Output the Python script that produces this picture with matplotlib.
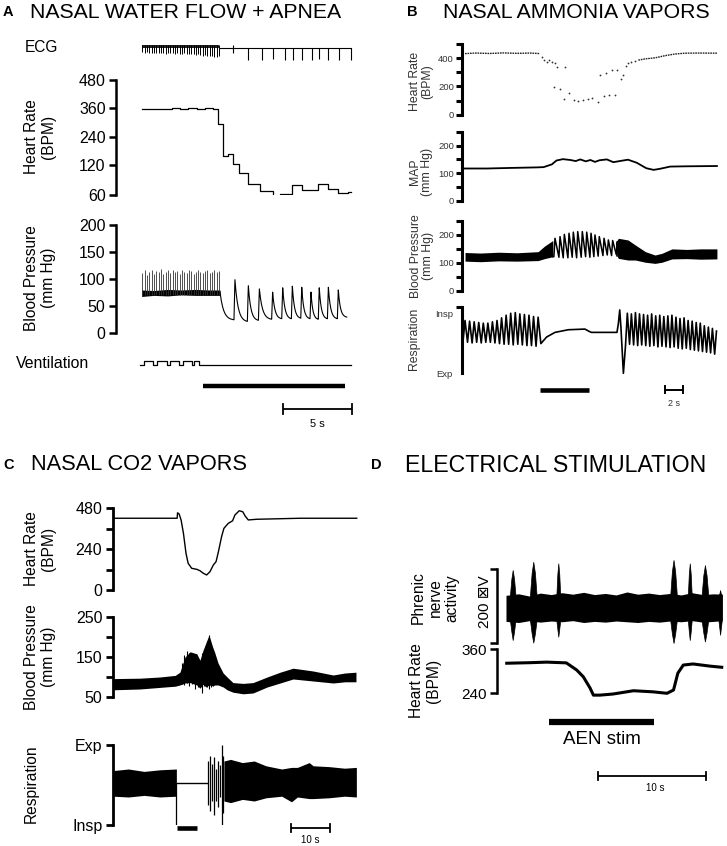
import numpy as np
import matplotlib
matplotlib.use('Agg')
import matplotlib.pyplot as plt
from matplotlib.transforms import Affine2D, blended_transform_factory
from matplotlib.ticker import NullLocator

plt.rcParams['font.family'] = ['Liberation Sans', 'DejaVu Sans']

# ------------------------------------------------------------------ data
# Panel A (time in s)
hr_a_t = [0.12, 0.9, 1.6, 2.3, 2.9, 3.5, 4.1, 4.7, 5.3, 5.67, 6.04, 6.40, 6.76, 7.20,
          7.85, 8.70, 9.66, 10.14, 10.99, 11.72, 12.92, 13.65, 14.37, 15.10, 15.27]
hr_a_v = [358, 359, 357, 360, 358, 361, 359, 360, 359, 293, 158, 166, 127, 105,
          83, 69, 58, 62, 80, 70, 82, 73, 65, 67, 67]

ecg_a_beat_t = [0.18, 0.35, 0.52, 0.68, 0.85, 1.02, 1.19, 1.36, 1.52, 1.69, 1.86, 2.03,
                2.20, 2.36, 2.53, 2.70, 2.87, 3.04, 3.20, 3.37, 3.54, 3.71, 3.88, 4.04,
                4.21, 4.38, 4.55, 4.72, 4.88, 5.05, 5.22, 5.39, 5.56, 5.72]
ecg_a_beat_depth = [-0.35, -0.40, -0.36, -0.42, -0.38, -0.40, -0.37, -0.43, -0.40, -0.38,
                    -0.45, -0.41, -0.44, -0.40, -0.46, -0.42, -0.45, -0.48, -0.44, -0.47,
                    -0.50, -0.46, -0.52, -0.55, -0.50, -0.56, -0.60, -0.58, -0.62, -0.66,
                    -0.62, -0.68, -0.70, -0.66]
ecg_a_slow_t = [6.75, 7.85, 8.86, 9.66, 10.51, 11.06, 11.72, 12.44, 12.99, 13.65, 14.44, 15.30]
ecg_a_slow_lo = [-0.38, -0.95, -0.95, -0.90, -0.95, -0.95, -0.95, -0.95, -0.90, -0.95, -0.95, -0.95]
ecg_a_slow_hi = [0.22, 0, 0, 0, 0, 0, 0, 0, 0, 0, 0, 0]

bp_a_fast_peak = [112, 116, 108, 114, 117, 110, 115, 113, 118, 109, 114, 116, 111, 117,
                  113, 115, 110, 116, 114, 112, 117, 115, 109, 113, 116, 114, 111, 115,
                  117, 112, 114, 116, 113, 115]
bp_a_band_t = [0.12, 1.0, 2.0, 3.0, 4.0, 5.0, 5.8]
bp_a_band_lo = [68, 70, 69, 71, 70, 70, 70]
bp_a_band_hi = [80, 79, 81, 80, 81, 80, 80]
bp_a_peak_t = [6.88, 7.85, 8.65, 9.61, 10.34, 11.04, 11.72, 12.39, 12.99, 13.65, 14.37]
bp_a_peak_v = [99, 88, 82, 76, 84, 87, 85, 76, 84, 85, 80]
bp_a_trough_v = [25, 22, 24, 26, 27, 27, 28, 27, 26, 27, 27]
bp_a_start = (5.80, 76)
bp_a_end = (14.98, 30)

vent_a_t = [0.0, 0.29, 0.97, 1.21, 1.93, 2.17, 2.85, 3.09, 3.75, 3.94, 4.30, 15.27]
vent_a_v = [0, 1, 0, 1, 0, 1, 0, 1, 0, 1, 0, 0]
stim_a = (4.54, 14.86)
scale_a = (10.36, 15.36)

# Panel B
hr_b_flat_t = [0.33, 1.5, 3.0, 4.5, 6.0, 7.5, 8.5]
hr_b_flat_v = [432, 436, 433, 437, 434, 436, 432]
hr_b_dot_t = [8.76, 8.97, 9.24, 9.52, 9.78, 10.14, 10.33, 11.23, 10.03, 10.69, 11.16, 11.70,
              12.21, 12.68, 13.23, 13.77, 14.21, 14.86, 15.49, 16.06, 16.68, 15.05, 15.67,
              16.32, 16.94, 17.31, 17.59, 17.85, 18.14, 18.43, 18.87]
hr_b_dot_v = [410, 386, 376, 386, 376, 369, 334, 334, 196, 184, 114, 155,
              107, 100, 103, 112, 119, 89, 131, 136, 138, 279, 293,
              317, 317, 250, 281, 346, 369, 376, 381]
hr_b_rec_t = [19.23, 20.0, 21.05, 22.1, 23.2, 24.3, 26.0, 27.8]
hr_b_rec_v = [386, 395, 402, 417, 429, 435, 436, 435]

map_b_t = [0.0, 2.7, 5.2, 8.1, 8.9, 9.8, 10.3, 11.0, 11.8, 12.4, 12.9, 13.5, 14.0, 14.5,
           15.0, 15.8, 16.5, 17.2, 18.1, 19.05, 20.1, 20.9, 21.6, 22.7, 24.5, 27.8]
map_b_v = [117, 117, 119, 121, 122, 132, 146, 151, 148, 144, 150, 143, 148, 141,
           147, 150, 140, 144, 149, 138, 118, 112, 116, 124, 125, 126]

bp_b_band1_t = [0.33, 2.0, 4.0, 6.0, 8.3, 9.0, 9.9]
bp_b_band1_lo = [106, 104, 107, 106, 108, 115, 122]
bp_b_band1_hi = [137, 135, 138, 136, 140, 160, 180]
bp_b_peak_t = [10.14, 10.69, 11.16, 11.67, 12.14, 12.62, 13.12, 13.60, 14.07, 14.50,
               14.97, 15.49, 15.96, 16.43, 16.94]
bp_b_peak_v = [188, 194, 202, 206, 210, 212, 212, 210, 206, 200, 194, 188, 182, 180, 176]
bp_b_trough_v = [122, 120, 118, 118, 120, 118, 120, 122, 120, 122, 124, 126, 128, 126, 130]
bp_b_band2_t = [16.9, 17.05, 18.1, 18.9, 20.0, 21.05, 21.8, 22.9, 24.5, 26.0, 27.8]
bp_b_band2_lo = [125, 116, 110, 110, 102, 98, 102, 114, 115, 113, 114]
bp_b_band2_hi = [180, 188, 182, 164, 140, 128, 134, 150, 148, 150, 150]

resp_b_pre_peak = [0.80, 0.79, 0.78, 0.77, 0.76, 0.76, 0.78, 0.80, 0.84, 0.88, 0.91,
                   0.92, 0.90, 0.89, 0.88, 0.86, 0.85]
resp_b_pre_trough = [0.48, 0.47, 0.46, 0.47, 0.46, 0.47, 0.47, 0.46, 0.45, 0.44, 0.44,
                     0.43, 0.44, 0.43, 0.42, 0.42, 0.41]
resp_b_pre_span = (0.33, 8.3)
resp_b_apnea_t = [8.6, 9.23, 10.14, 11.6, 13.4, 13.8, 14.1, 16.9, 17.05, 17.2, 17.33, 17.6]
resp_b_apnea_v = [0.45, 0.55, 0.62, 0.66, 0.67, 0.64, 0.62, 0.62, 0.75, 0.96, 0.70, 0.0]
resp_b_post_peak = [0.91, 0.90, 0.92, 0.90, 0.89, 0.88, 0.90, 0.87, 0.88, 0.86, 0.87, 0.88,
                    0.85, 0.83, 0.84, 0.80, 0.79, 0.77, 0.76, 0.72, 0.70, 0.68, 0.64]
resp_b_post_trough = [0.42, 0.44, 0.43, 0.42, 0.43, 0.42, 0.41, 0.42, 0.40, 0.41, 0.40, 0.39,
                      0.40, 0.38, 0.37, 0.38, 0.36, 0.35, 0.34, 0.33, 0.32, 0.31, 0.29]
resp_b_post_span = (18.03, 27.75)
stim_b = (8.5, 13.9)
scale_b = (22.14, 24.14)

# Panel C
hr_c_t = [0.08, 16.4, 16.5, 16.9, 17.4, 18.0, 18.65, 19.2, 20.1, 21.4, 22.2, 23.05, 23.9,
          24.75, 25.6, 26.3, 26.9, 27.7, 28.3, 29.4, 30.5, 31.1, 32.2, 33.1, 33.7, 34.5,
          36.6, 47.7, 62.1]
hr_c_v = [420, 420, 452, 445, 410, 332, 215, 156, 127, 121, 113, 98, 88,
          107, 146, 166, 224, 312, 361, 390, 405, 439, 464, 458, 433, 410,
          414, 420, 420]
bp_c_t = [0.1, 6.9, 12.0, 15.9, 17.1, 18.4, 19.7, 21.4, 22.2, 23.0, 23.7, 24.5, 25.4, 26.0,
          26.8, 28.1, 29.1, 30.6, 33.2, 35.7, 39.3, 42.6, 45.9, 51.0, 56.1, 59.1, 61.9]
bp_c_lo = [68, 70, 74, 77, 80, 85, 86, 80, 72, 82, 75, 80, 78, 80,
           80, 75, 68, 62, 58, 60, 75, 85, 95, 90, 85, 88, 88]
bp_c_hi = [96, 97, 100, 104, 112, 150, 163, 158, 142, 167, 185, 205, 176, 160,
           135, 110, 100, 86, 84, 86, 100, 112, 122, 115, 105, 110, 112]
bp_c_spike_t = [17.6, 18.2, 18.9, 19.5, 20.3, 21.0, 21.7, 22.6, 23.3, 24.0, 24.5, 25.0, 25.6]
bp_c_spike_lo = [82, 80, 84, 78, 82, 70, 76, 60, 78, 74, 70, 76, 78]
bp_c_spike_hi = [135, 155, 165, 160, 158, 150, 140, 160, 170, 190, 205, 180, 165]
resp_c_band1_t = [0.1, 4.0, 8.0, 12.0, 16.2]
resp_c_band1_lo = [0.36, 0.35, 0.37, 0.35, 0.36]
resp_c_band1_hi = [0.68, 0.70, 0.67, 0.69, 0.70]
resp_c_flat_t = [16.2, 24.1]
resp_c_flat_v = [0.52, 0.52]
resp_c_gasp_t = [16.2, 24.2, 24.7, 25.2, 25.7, 26.2, 26.7, 27.2, 27.7, 28.1]
resp_c_gasp_lo = [0.0, 0.25, 0.18, 0.30, 0.12, 0.30, 0.22, 0.35, 0.0, 0.15]
resp_c_gasp_hi = [0.52, 0.80, 0.86, 0.76, 0.85, 0.70, 0.80, 0.75, 1.0, 0.86]
resp_c_band2_t = [28.3, 30.0, 33.0, 36.0, 39.0, 43.0, 45.5, 47.0, 50.0, 51.0, 55.0, 59.0, 62.0]
resp_c_band2_lo = [0.30, 0.28, 0.32, 0.30, 0.34, 0.36, 0.29, 0.35, 0.33, 0.33, 0.34, 0.36, 0.35]
resp_c_band2_hi = [0.80, 0.82, 0.78, 0.80, 0.74, 0.70, 0.72, 0.72, 0.78, 0.74, 0.73, 0.71, 0.72]
stim_c = (16.3, 21.5)
scale_c = (45.3, 55.3)

# Panel D
phr_t = [0.83, 2.0, 3.0, 4.0, 5.0, 6.0, 7.0, 8.0, 9.0, 10.0, 11.0, 12.0, 13.0, 14.0,
         15.0, 16.0, 17.0, 18.0, 19.0, 20.0, 20.8]
phr_lo = [-42, -45, -40, -44, -41, -43, -40, -45, -42, -44, -41, -43, -45, -42,
          -44, -41, -43, -40, -44, -42, -40]
phr_hi = [28, 32, 26, 34, 30, 35, 31, 36, 30, 33, 29, 37, 31, 34,
          30, 33, 29, 35, 30, 32, 31]
phr_burst_t = [1.45, 3.35, 5.66, 16.3, 17.8, 19.2, 20.6]
phr_burst_hi = [96, 118, 114, 123, 114, 109, 42]
phr_burst_lo = [-92, -99, -83, -100, -92, -96, -78]
phr_burst_w = [0.5, 0.6, 0.35, 0.6, 0.35, 0.6, 0.3]
hr_d_t = [0.9, 3.05, 4.6, 6.4, 7.36, 7.97, 8.6, 8.9, 9.5, 10.7, 12.6, 14.4, 15.7, 16.3,
          16.7, 17.2, 18.1, 19.7, 20.75]
hr_d_v = [322, 323.5, 325, 323, 303.5, 285, 254, 235, 235, 238, 247, 244, 240, 249,
          295, 317, 320, 314, 311]
stim_d = (4.83, 14.5)
scale_d = (9.3, 19.3)

# ------------------------------------------------------------------ helpers
W, H = 727, 846
fig = plt.figure(figsize=(W / 100, H / 100), dpi=100)
pxT = Affine2D().scale(1 / W, -1 / H).translate(0, 1) + fig.transFigure


def ftext(x, y, s, **kw):
    kw.setdefault('ha', 'center')
    kw.setdefault('va', 'center')
    fig.text(x, y, s, transform=pxT, **kw)


def trace_axes(x0, y0, x1, y1, org, pps, ylim, yscale=None):
    ax = fig.add_axes([x0 / W, 1 - y1 / H, (x1 - x0) / W, (y1 - y0) / H])
    if yscale is not None:
        ax.set_yscale('function', functions=yscale)
    ax.set_xlim((x0 - org) / pps, (x1 - org) / pps)
    ax.set_ylim(*ylim)
    ax.patch.set_visible(False)
    for s in ['top', 'right', 'bottom']:
        ax.spines[s].set_visible(False)
    ax.set_xticks([])
    ax.yaxis.set_minor_locator(NullLocator())
    return ax


def style_y(ax, major, labels, minor=None, lw=1.8, length=5, fs=11.5,
            color='black', pad=2.5):
    ax.spines['left'].set_linewidth(lw)
    ax.set_yticks(major)
    ax.set_yticklabels(labels)
    if minor is not None:
        ax.set_yticks(minor, minor=True)
    ax.tick_params(axis='y', which='both', direction='out', length=length,
                   width=lw, labelsize=fs, labelcolor=color, pad=pad)


def no_axis(ax):
    ax.spines['left'].set_visible(False)
    ax.set_yticks([])


def hbar(ax, t0, t1, y, lw, caps=0, color='black'):
    tr = blended_transform_factory(ax.transData, pxT)
    ax.plot([t0, t1], [y, y], color=color, lw=lw, transform=tr, clip_on=False,
            solid_capstyle='butt')
    if caps:
        for t in (t0, t1):
            ax.plot([t, t], [y - caps, y + caps], color=color, lw=lw, transform=tr,
                    clip_on=False)


def bar_text(ax, t, y, s, **kw):
    tr = blended_transform_factory(ax.transData, pxT)
    ax.text(t, y, s, transform=tr, ha='center', va='center', **kw)


def decay(t0, v0, t1, v1, n=24):
    s = np.linspace(0, 1, n)
    k = 4.0
    shape = (np.exp(-k * s) - np.exp(-k)) / (1 - np.exp(-k))
    return list(t0 + s * (t1 - t0)), list(v1 + (v0 - v1) * shape)


def zigzag(span, peaks, troughs):
    tp = np.linspace(span[0], span[1], len(peaks))
    half = (tp[1] - tp[0]) / 2
    ts, vs = [], []
    for t, p, q in zip(tp, peaks, troughs):
        ts += [t - half * 0.9, t]
        vs += [q, p]
    return ts, vs


# ------------------------------------------------------------------ panel A
orgA, ppsA = 140, 13.8
ftext(3, 12.5, 'A', fontsize=10.5, fontweight='bold', ha='left')
ftext(30, 12.5, 'NASAL WATER FLOW + APNEA', fontsize=15.3, ha='left')
ftext(25, 48, 'ECG', fontsize=11.2, ha='left')
ftext(40, 137, 'Heart Rate\n(BPM)', fontsize=11.2, rotation=90, linespacing=1.1)
ftext(40, 278, 'Blood Pressure\n(mm Hg)', fontsize=11.2, rotation=90, linespacing=1.1)
ftext(16, 364, 'Ventilation', fontsize=11.4, ha='left')

# ECG
ax = trace_axes(116, 40, 356, 64, orgA, ppsA, (-1.25, 0.59))
no_axis(ax)
ax.fill_between([ecg_a_beat_t[0], ecg_a_beat_t[-1]], [-0.05, -0.05], [0.2, 0.2],
                color='#222222', lw=0)
ax.vlines(ecg_a_beat_t, ecg_a_beat_depth, 0.2, color='black', lw=0.7)
ax.plot([ecg_a_beat_t[-1], ecg_a_slow_t[-1]], [0.0, 0.0], color='black', lw=0.8)
ax.vlines(ecg_a_slow_t, ecg_a_slow_lo, ecg_a_slow_hi, color='black', lw=0.8)

# HR
def fwd(v):
    v = np.asarray(v, dtype=float)
    return np.where(v >= 120, v, 120 - (120 - v) * 2.1)


def inv(u):
    u = np.asarray(u, dtype=float)
    return np.where(u >= 120, u, 120 - (120 - u) / 2.1)


ax = trace_axes(116, 80, 356, 195, orgA, ppsA, (60, 480), yscale=(fwd, inv))
style_y(ax, [60, 120, 240, 360, 480], ['60', '120', '240', '360', '480'])
ax.yaxis.set_minor_locator(NullLocator())
ax.plot(hr_a_t, hr_a_v, drawstyle='steps-post', color='black', lw=0.9)

# BP
ax = trace_axes(116, 225, 356, 333.3, orgA, ppsA, (0, 200))
style_y(ax, [0, 50, 100, 150, 200], ['0', '50', '100', '150', '200'])
ax.fill_between(bp_a_band_t, bp_a_band_lo, bp_a_band_hi, color='black', lw=0)
ax.vlines(ecg_a_beat_t, 70, bp_a_fast_peak, color='#333333', lw=0.6)
ts, vs = [], []
prev = bp_a_start
for tp, pk, tr in zip(bp_a_peak_t, bp_a_peak_v, bp_a_trough_v):
    a, b = decay(prev[0], prev[1], tp - 0.07, tr)
    ts += a
    vs += b
    prev = (tp, pk)
a, b = decay(prev[0], prev[1], bp_a_end[0], bp_a_end[1])
ts += a
vs += b
ax.plot(ts, vs, color='black', lw=0.8)

# Ventilation
ax = trace_axes(116, 360.7, 356, 365, orgA, ppsA, (0, 1))
no_axis(ax)
ax.plot(vent_a_t, vent_a_v, drawstyle='steps-post', color='black', lw=0.9, clip_on=False)
hbar(ax, stim_a[0], stim_a[1], 386, 3.2)
hbar(ax, scale_a[0], scale_a[1], 409, 1.3, caps=5)
bar_text(ax, (scale_a[0] + scale_a[1]) / 2, 424, '5 s', fontsize=8)

# ------------------------------------------------------------------ panel B
orgB, ppsB = 462, 9.17
cB = '#333333'
ftext(407, 12.5, 'B', fontsize=10.5, fontweight='bold', ha='left')
ftext(442.7, 12.5, 'NASAL AMMONIA VAPORS', fontsize=15.3, ha='left')
ftext(421, 81.7, 'Heart Rate\n(BPM)', fontsize=8.8, rotation=90, linespacing=1.1, color=cB)
ftext(421, 172, 'MAP\n(mm Hg)', fontsize=8.8, rotation=90, linespacing=1.1, color=cB)
ftext(422, 256, 'Blood Pressure\n(mm Hg)', fontsize=8.8, rotation=90, linespacing=1.1, color=cB)
ftext(414, 339, 'Respiration', fontsize=8.8, rotation=90, color=cB)

# HR
ax = trace_axes(461.7, 44, 718, 114.7, orgB, ppsB, (0, 500))
style_y(ax, [0, 200, 400], ['0', '200', '400'], minor=[100, 300, 500], lw=2.2,
        length=4, fs=6.8, color=cB, pad=1.5)
ax.plot(hr_b_flat_t, hr_b_flat_v, color='#222222', lw=1.0, ls=(0, (1.2, 0.6)))
ax.plot(hr_b_dot_t, hr_b_dot_v, ls='none', marker='o', ms=1.3, color='#333333', mew=0)
ax.plot(hr_b_rec_t, hr_b_rec_v, color='#222222', lw=1.0, ls=(0, (1.2, 0.6)))

# MAP
ax = trace_axes(461.7, 131.9, 718, 200.7, orgB, ppsB, (0, 250))
style_y(ax, [0, 100, 200], ['0', '100', '200'], minor=[50, 150, 250], lw=2.2,
        length=4, fs=6.8, color=cB, pad=1.5)
ax.plot(map_b_t, map_b_v, color='black', lw=1.3)

# BP
ax = trace_axes(461.7, 221, 718, 290.7, orgB, ppsB, (0, 250))
style_y(ax, [0, 100, 200], ['0', '100', '200'], minor=[50, 150, 250], lw=2.2,
        length=4, fs=6.8, color=cB, pad=1.5)
ax.fill_between(bp_b_band1_t, bp_b_band1_lo, bp_b_band1_hi, color='black', lw=0)
ax.fill_between(bp_b_band2_t, bp_b_band2_lo, bp_b_band2_hi, color='black', lw=0)
ts, vs = [bp_b_band1_t[-1]], [bp_b_band1_lo[-1]]
for i, (tp, pk) in enumerate(zip(bp_b_peak_t, bp_b_peak_v)):
    ts += [tp - 0.12, tp]
    vs += [bp_b_trough_v[i], pk]
ts.append(bp_b_band2_t[0])
vs.append(bp_b_band2_lo[0])
ax.plot(ts, vs, color='black', lw=1.1)

# Respiration
ax = trace_axes(461.7, 307.3, 718, 373.3, orgB, ppsB, (0, 1))
style_y(ax, [0, 0.91], ['Exp', 'Insp'], lw=2.2, length=0, fs=6.8, color=cB, pad=6.5)
ax.set_yticks([0, 1], minor=True)
ax.tick_params(axis='y', which='minor', length=4, width=2.2)
t1, v1 = zigzag(resp_b_pre_span, resp_b_pre_peak, resp_b_pre_trough)
t2, v2 = zigzag(resp_b_post_span, resp_b_post_peak, resp_b_post_trough)
ax.plot(t1 + resp_b_apnea_t + t2, v1 + resp_b_apnea_v + v2, color='black', lw=1.2,
        clip_on=False)
hbar(ax, stim_b[0], stim_b[1], 390, 3.3)
hbar(ax, scale_b[0], scale_b[1], 390, 1.4, caps=3.5)
bar_text(ax, (scale_b[0] + scale_b[1]) / 2, 404, '2 s', fontsize=6.5, color=cB)

# ------------------------------------------------------------------ panel C
orgC, ppsC = 112.7, 3.93
ftext(3, 465, 'C', fontsize=10.5, fontweight='bold', ha='left')
ftext(31, 465, 'NASAL CO2 VAPORS', fontsize=15.7, ha='left')
ftext(40, 549, 'Heart Rate\n(BPM)', fontsize=11.2, rotation=90, linespacing=1.1)
ftext(40, 657, 'Blood Pressure\n(mm Hg)', fontsize=11.2, rotation=90, linespacing=1.1)
ftext(31, 784, 'Respiration', fontsize=11.2, rotation=90)

ax = trace_axes(112.7, 508, 358, 590, orgC, ppsC, (0, 480))
style_y(ax, [0, 240, 480], ['0', '240', '480'], minor=[120, 360], lw=2.0)
ax.plot(hr_c_t, hr_c_v, color='black', lw=1.0)

ax = trace_axes(112.7, 617, 358, 697, orgC, ppsC, (50, 250))
style_y(ax, [50, 150, 250], ['50', '150', '250'], minor=[100, 200], lw=2.0)
ax.fill_between(bp_c_t, bp_c_lo, bp_c_hi, color='black', lw=0)
ax.vlines(bp_c_spike_t, bp_c_spike_lo, bp_c_spike_hi, color='black', lw=0.8)

ax = trace_axes(112.7, 745, 358, 825, orgC, ppsC, (0, 1))
style_y(ax, [0, 1], ['Insp', 'Exp'], lw=2.0)
ax.fill_between(resp_c_band1_t, resp_c_band1_lo, resp_c_band1_hi, color='black', lw=0)
ax.plot(resp_c_flat_t, resp_c_flat_v, color='black', lw=1.0)
ax.vlines(resp_c_gasp_t, resp_c_gasp_lo, resp_c_gasp_hi, color='black', lw=0.9)
ax.fill_between(resp_c_band2_t, resp_c_band2_lo, resp_c_band2_hi, color='black', lw=0)
hbar(ax, stim_c[0], stim_c[1], 828.5, 3.3)
hbar(ax, scale_c[0], scale_c[1], 828.5, 1.3, caps=4)
bar_text(ax, (scale_c[0] + scale_c[1]) / 2, 840, '10 s', fontsize=7)

# ------------------------------------------------------------------ panel D
orgD, ppsD = 497, 10.83
ftext(371, 465, 'D', fontsize=10.5, fontweight='bold', ha='left')
ftext(405, 465, 'ELECTRICAL STIMULATION', fontsize=16.7, ha='left')
ftext(435, 598, 'Phrenic\nnerve\nactivity', fontsize=11.2, rotation=90, linespacing=1.15)
ftext(485, 602, '200 \u22a0V', fontsize=11, rotation=90)
ftext(425, 681, 'Heart Rate\n(BPM)', fontsize=11.2, rotation=90, linespacing=1.1)

ax = trace_axes(497, 568.5, 724, 643, orgD, ppsD, (-100, 100))
style_y(ax, [-100, 100], ['', ''], lw=1.8, length=5)
ax.fill_between(phr_t, phr_lo, phr_hi, color='black', lw=0)
for t, hi, lo, w in zip(phr_burst_t, phr_burst_hi, phr_burst_lo, phr_burst_w):
    xs = [t - w / 2, t - w / 4, t, t + w / 4, t + w / 2]
    ax.fill_between(xs, [-40, 0.75 * lo, lo, 0.75 * lo, -40],
                    [30, 0.75 * hi, hi, 0.75 * hi, 30], color='black', lw=0.5,
                    clip_on=False)

ax = trace_axes(497, 649.3, 724, 693.3, orgD, ppsD, (240, 360))
style_y(ax, [240, 360], ['240', '360'], lw=1.8, length=5, fs=11)
ax.plot(hr_d_t, hr_d_v, color='black', lw=2.2, clip_on=False)
hbar(ax, stim_d[0], stim_d[1], 721.7, 4.5)
bar_text(ax, (stim_d[0] + stim_d[1]) / 2, 739, 'AEN stim', fontsize=13.5)
hbar(ax, scale_d[0], scale_d[1], 776, 1.3, caps=4)
bar_text(ax, (scale_d[0] + scale_d[1]) / 2 + 0.3, 788, '10 s', fontsize=7)

fig.savefig('out.png', dpi=100)
